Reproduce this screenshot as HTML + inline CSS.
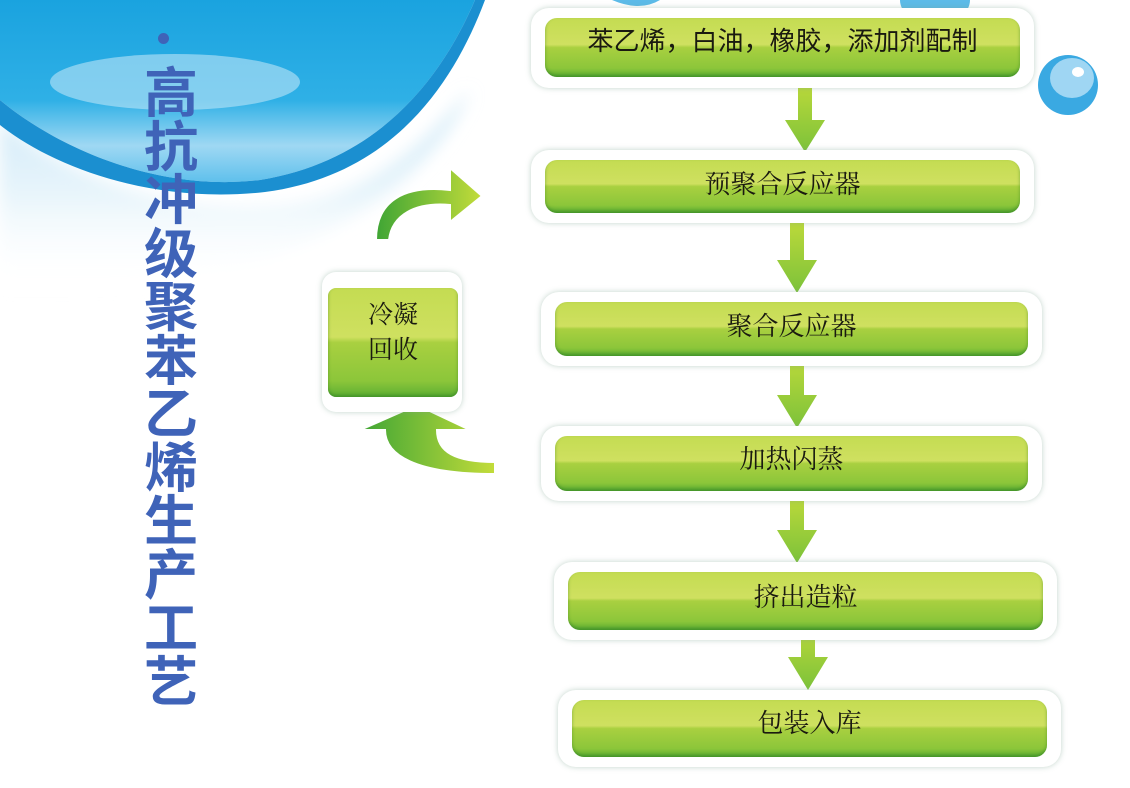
<!DOCTYPE html>
<html><head><meta charset="utf-8"><style>
body{margin:0;width:1130px;height:788px;overflow:hidden;background:#fff;position:relative;font-family:"Liberation Serif","Noto Serif CJK SC",serif}
.f{position:absolute;background:#fff;border-radius:18px;box-shadow:0 0 6px rgba(120,160,140,.45)}
.b{position:absolute;border-radius:12px;background:linear-gradient(#c4dc52 0%,#cfe060 45%,#a9d040 50%,#8cc63a 85%,#5cae33 100%);color:#1a1a10;font-size:26px;text-align:center;box-shadow:inset 0 -2px 3px rgba(40,120,30,.5)}
.t{position:absolute;left:140px;top:62px;width:62px;font:bold 54px/53.5px "Noto Sans CJK SC",sans-serif;color:#3f63b8;text-align:center}
</style></head><body>
<svg width="1130" height="788" style="position:absolute;left:0;top:0">
<defs>
<linearGradient id="bl" x1="0" y1="0" x2="0" y2="1"><stop offset="0" stop-color="#1aa3df"/><stop offset=".55" stop-color="#2fb0e6"/><stop offset=".8" stop-color="#9fd8f3"/><stop offset="1" stop-color="#5fc0ec"/></linearGradient>
<linearGradient id="fade" x1="0" y1="0" x2="0" y2="1"><stop offset="0" stop-color="#cfe9f7"/><stop offset=".5" stop-color="#e6f4fb"/><stop offset="1" stop-color="#fff" stop-opacity="0"/></linearGradient>
<linearGradient id="ga" x1="0" y1="0" x2="1" y2="0"><stop offset="0" stop-color="#3fa535"/><stop offset="1" stop-color="#c3dc3a"/></linearGradient>
<linearGradient id="gd" x1="0" y1="0" x2="0" y2="1"><stop offset="0" stop-color="#bcd93a"/><stop offset="1" stop-color="#7cc23a"/></linearGradient>
<filter id="bl8"><feGaussianBlur stdDeviation="8"/></filter>
</defs>
<path d="M0 120 C60 170 160 215 280 205 C360 198 420 150 470 90 C430 190 300 260 200 275 C120 290 50 290 0 290 Z" fill="url(#fade)" filter="url(#bl8)"/>
<path d="M0 0 H475 C445 70 385 160 260 180 C160 192 60 150 0 100 Z" fill="url(#bl)"/>
<path d="M0 100 C60 150 160 192 260 180 C385 160 445 70 475 0 L485 0 C455 80 395 175 265 192 C150 205 50 165 0 125Z" fill="#1b8fd0"/>
<ellipse cx="175" cy="82" rx="125" ry="28" fill="#bde4f7" opacity=".6"/>
<ellipse cx="1068" cy="85" rx="30" ry="30" fill="#3aa9e2"/>
<ellipse cx="1072" cy="78" rx="22" ry="20" fill="#9fd6f3"/>
<ellipse cx="1078" cy="72" rx="6" ry="5" fill="#fff"/>
<path d="M900 0 A35 25 0 0 0 970 0 Z" fill="#5cbbe8"/>
<path d="M612 0 Q640 12 660 0 Z" fill="#5cbbe8"/>
<path d="M376 240 C376 200 405 185 450 190 L450 168 L482 196 L450 222 L450 205 C415 202 392 215 389 240 Z" fill="url(#ga)" stroke="#fff" stroke-width="2"/>
<path d="M495 474 C415 474 385 455 385 430 L360 430 L417 405 L470 430 L437 430 C437 452 455 462 495 462 Z" fill="url(#ga)" stroke="#fff" stroke-width="2"/>
<g fill="url(#gd)">
<path d="M798 83 h14 v37 h13 l-20 32 l-20 -32 h13z"/>
<path d="M790 222 h14 v38 h13 l-20 33 l-20 -33 h13z"/>
<path d="M790 358 h14 v37 h13 l-20 33 l-20 -33 h13z"/>
<path d="M790 497 h14 v33 h13 l-20 33 l-20 -33 h13z"/>
<path d="M801 625 h14 v32 h13 l-20 33 l-20 -33 h13z"/>
</g>
</svg>
<div style="position:absolute;left:158px;top:33px;width:11px;height:11px;border-radius:50%;background:#3f63b8"></div>
<div class="t">高抗冲级聚苯乙烯生产工艺</div>

<div class="f" style="left:531px;top:8px;width:503px;height:80px"></div>
<div class="b" style="left:545px;top:18px;width:475px;height:59px;line-height:46px;font-family:'Liberation Sans','Noto Sans CJK SC',sans-serif">苯乙烯，白油，橡胶，添加剂配制</div>
<div class="f" style="left:531px;top:150px;width:503px;height:73px"></div>
<div class="b" style="left:545px;top:160px;width:475px;height:53px;line-height:50px">预聚合反应器</div>
<div class="f" style="left:541px;top:292px;width:501px;height:74px"></div>
<div class="b" style="left:555px;top:302px;width:473px;height:54px;line-height:50px">聚合反应器</div>
<div class="f" style="left:541px;top:426px;width:501px;height:75px"></div>
<div class="b" style="left:555px;top:436px;width:473px;height:55px;line-height:48px">加热闪蒸</div>
<div class="f" style="left:554px;top:562px;width:503px;height:78px"></div>
<div class="b" style="left:568px;top:572px;width:475px;height:58px;line-height:52px">挤出造粒</div>
<div class="f" style="left:558px;top:690px;width:503px;height:77px"></div>
<div class="b" style="left:572px;top:700px;width:475px;height:57px;line-height:48px">包装入库</div>

<div class="f" style="left:322px;top:272px;width:140px;height:140px;border-radius:14px"></div>
<div class="b" style="left:328px;top:288px;width:130px;height:109px;border-radius:8px;font-size:25px;line-height:35px;padding-top:10px;box-sizing:border-box">冷凝<br>回收</div>
</body></html>
